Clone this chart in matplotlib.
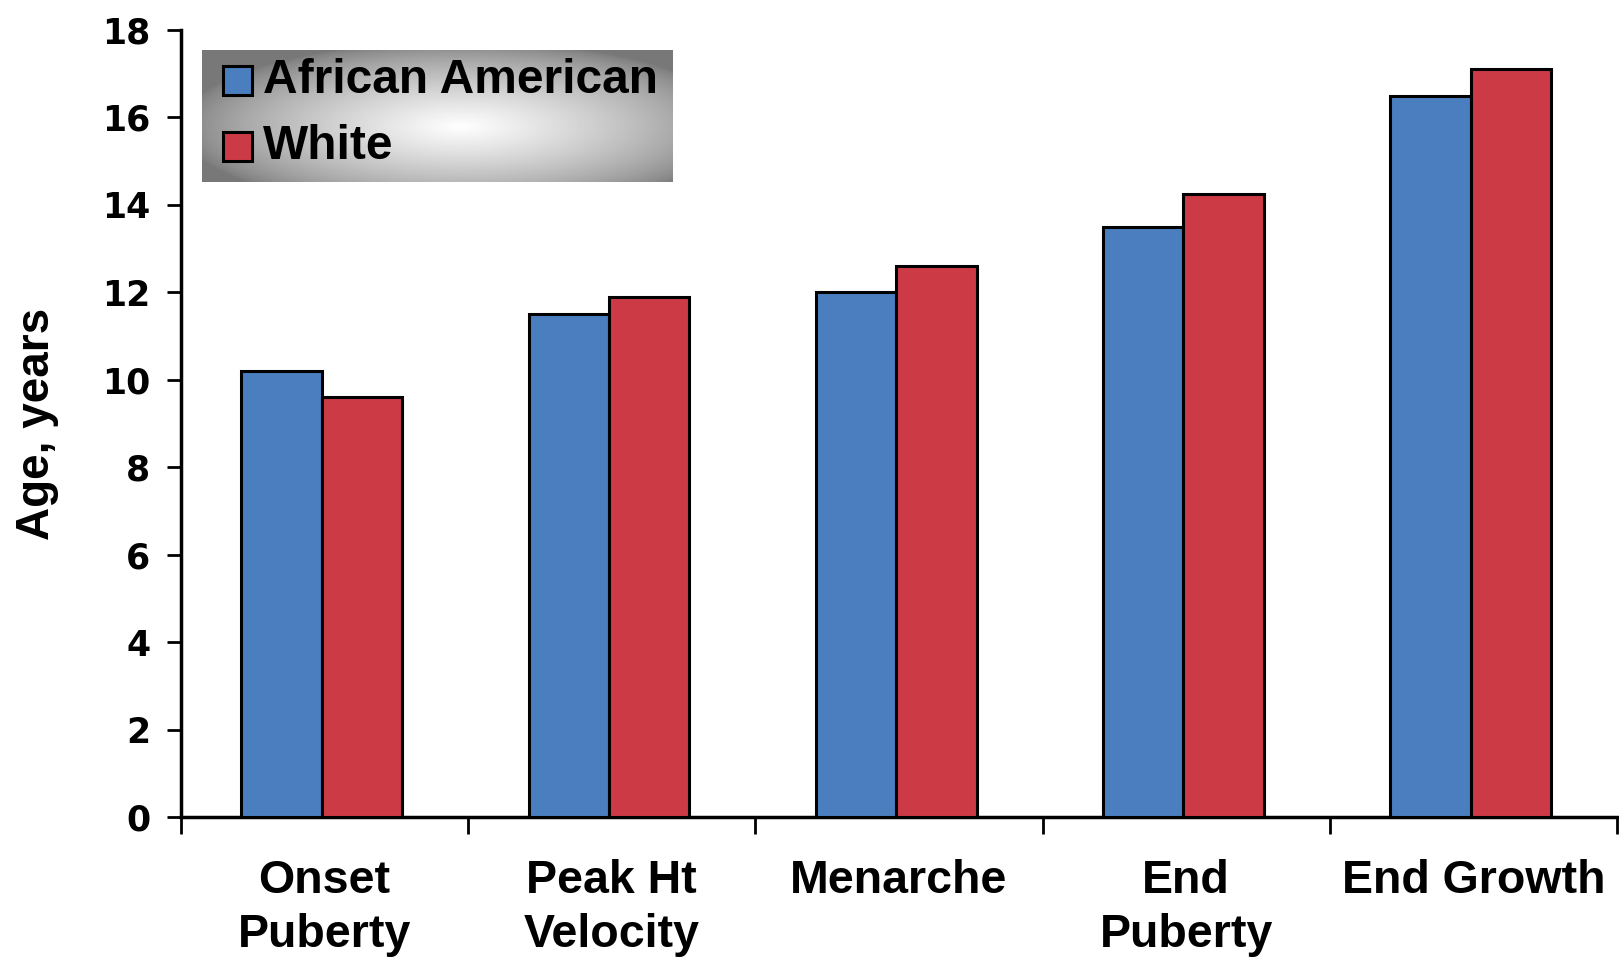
import matplotlib
matplotlib.use("Agg")
import matplotlib.pyplot as plt
import numpy as np
from matplotlib.patches import Rectangle

categories = ["Onset\nPuberty", "Peak Ht\nVelocity", "Menarche", "End\nPuberty", "End Growth"]
series_names = ["African American", "White"]
african_american = [10.2, 11.5, 12.0, 13.5, 16.5]
white = [9.6, 11.9, 12.6, 14.25, 17.1]
y_ticks = [0, 2, 4, 6, 8, 10, 12, 14, 16, 18]

BLUE = "#4a7ebf"
RED = "#cc3b45"
SANS = ["Liberation Sans", "DejaVu Sans"]
HEAVY = ["DejaVu Sans"]

fig = plt.figure(figsize=(16.19, 9.57), dpi=100)
ax = fig.add_axes([0.1118, 0.1463, 0.887, 0.8224])

x = np.arange(len(categories))
width = 0.28
ax.bar(x - width / 2 - 0.01, african_american, width, color=BLUE, edgecolor="black", linewidth=2.2, zorder=3)
ax.bar(x + width / 2 - 0.01, white, width, color=RED, edgecolor="black", linewidth=2.2, zorder=3)

ax.set_xlim(-0.5, len(categories) - 0.5)
ax.set_ylim(0, 18)
ax.set_yticks(y_ticks)
ax.set_yticklabels([str(t) for t in y_ticks], family=HEAVY, fontweight="heavy", fontsize=25)
ax.tick_params(axis="y", length=10, width=2, pad=12)

ax.set_xticks(x)
ax.set_xticklabels(categories, family=SANS, fontweight="bold", fontsize=33.5, linespacing=1.3)
ax.tick_params(axis="x", which="major", length=0, pad=30)
ax.set_xticks(np.arange(len(categories) + 1) - 0.5, minor=True)
ax.tick_params(axis="x", which="minor", length=12, width=2)

for side in ("top", "right"):
    ax.spines[side].set_visible(False)
for side in ("left", "bottom"):
    ax.spines[side].set_linewidth(2.5)

ax.set_ylabel("Age, years", family=SANS, fontweight="bold", fontsize=33, labelpad=31)

# legend box with a grey-to-white shaded background
lax = fig.add_axes([202 / 1619, 1 - 182 / 957, 470 / 1619, 132 / 957])
gx, gy = np.meshgrid(np.linspace(0, 1, 400), np.linspace(0, 1, 120))
r = np.sqrt(((gx - 0.55) / 0.6) ** 2 + ((gy - 0.42) / 0.65) ** 2)
shade = 0.47 + 0.53 * np.clip(1 - r, 0, 1) ** 0.7
lax.imshow(shade, cmap="gray", vmin=0, vmax=1, extent=(0, 1, 0, 1), aspect="auto", origin="lower")
lax.set_xlim(0, 1)
lax.set_ylim(0, 1)
lax.axis("off")

row_y = [0.77, 0.27]
for name, color, yy in zip(series_names, [BLUE, RED], row_y):
    lax.add_patch(Rectangle((0.045, yy - 0.11), 0.062, 0.22, facecolor=color,
                            edgecolor="black", linewidth=2.2, transform=lax.transAxes))
    lax.text(0.13, yy, name, transform=lax.transAxes, ha="left", va="center",
             family=SANS, fontweight="bold", fontsize=34.5)

fig.savefig("out.png", dpi=100)
